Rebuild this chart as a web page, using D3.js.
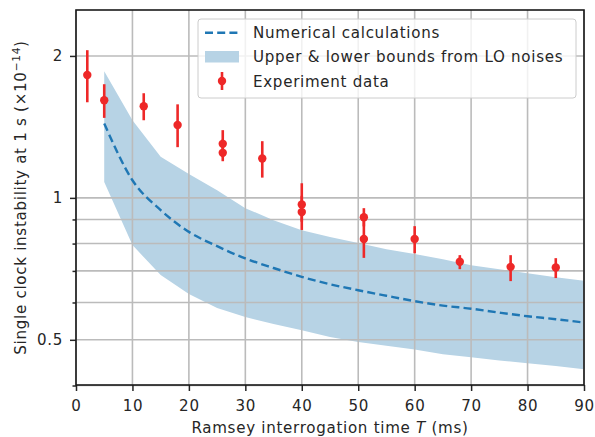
<!DOCTYPE html>
<html><head><meta charset="utf-8">
<script src="https://cdn.jsdelivr.net/npm/d3@7"></script>
<style>
body{margin:0;background:#fff;}
text{font-family:"DejaVu Sans",sans-serif;}
</style></head>
<body><svg id="c" width="595" height="437"></svg>
<script>
// Band / theory curve sampled at T (ms)
const bandT = [5,10,15,20,25,30,35,40,45,50,55,60,65,70,75,80,85,90];
const upperBound = [1.856,1.461,1.222,1.123,1.038,0.951,0.897,0.854,0.826,0.802,0.778,0.760,0.741,0.720,0.706,0.692,0.679,0.667];
const lowerBound = [1.081,0.794,0.686,0.625,0.584,0.559,0.540,0.524,0.507,0.495,0.486,0.477,0.466,0.459,0.452,0.446,0.440,0.433];
const numerical  = [1.438,1.090,0.942,0.847,0.790,0.744,0.710,0.680,0.656,0.637,0.620,0.604,0.591,0.582,0.571,0.561,0.553,0.544];
// Experiment data
const expT   = [2,5,12,18,26,26,33,40,40,51,51,60,68,77,85];
const expVal = [1.823,1.611,1.565,1.428,1.302,1.246,1.212,0.968,0.933,0.910,0.818,0.818,0.732,0.714,0.712];
const expLo  = [1.595,1.478,1.461,1.281,1.220,1.196,1.104,0.890,0.855,0.870,0.746,0.763,0.706,0.666,0.676];
const expHi  = [2.057,1.742,1.667,1.579,1.392,1.330,1.319,1.074,1.010,0.951,0.900,0.871,0.756,0.756,0.745];
// Ticks
const xTicks = [0,10,20,30,40,50,60,70,80,90];
const yMajor = [0.5,1,2];
const yMinor = [0.4,0.6,0.7,0.8,0.9];
const legendLabels = ["Numerical calculations","Upper & lower bounds from LO noises","Experiment data"];

const svg = d3.select("#c");
const L=76,R=584,Tp=10,B=385;
const FS="15.1px", LS="0.7px";
const x = d3.scaleLinear().domain([0,90]).range([L,R]);
const y = d3.scaleLog().domain([0.401,2.503]).range([B,Tp]);
const ink="#262626", grid="#bbbbbb", red="#ee2828", blue="#1f77b4";

// band
const band = bandT.map((t,i)=>({t,lo:lowerBound[i],hi:upperBound[i]}));
svg.append("path").datum(band)
  .attr("d", d3.area().x(d=>x(d.t)).y0(d=>y(d.lo)).y1(d=>y(d.hi)))
  .attr("fill","#b7d3e5");

// grid
const g = svg.append("g");
xTicks.forEach(t=>g.append("line").attr("x1",x(t)).attr("x2",x(t)).attr("y1",Tp).attr("y2",B)
  .attr("stroke",grid).attr("stroke-width",1.6));
yMajor.concat(yMinor).forEach(v=>g.append("line").attr("x1",L).attr("x2",R).attr("y1",y(v)).attr("y2",y(v))
  .attr("stroke",grid).attr("stroke-width",1.6));

// dashed line
svg.append("path").datum(bandT.map((t,i)=>[t,numerical[i]]))
  .attr("d", d3.line().x(d=>x(d[0])).y(d=>y(d[1])).curve(d3.curveMonotoneX))
  .attr("fill","none").attr("stroke",blue).attr("stroke-width",2.4).attr("stroke-dasharray","8,4.2");

// error bars
const ed = expT.map((t,i)=>({t,v:expVal[i],lo:expLo[i],hi:expHi[i]}));
svg.append("g").selectAll("line").data(ed).join("line")
  .attr("x1",d=>x(d.t)).attr("x2",d=>x(d.t)).attr("y1",d=>y(d.lo)).attr("y2",d=>y(d.hi))
  .attr("stroke",red).attr("stroke-width",2.6);
svg.append("g").selectAll("circle").data(ed).join("circle")
  .attr("cx",d=>x(d.t)).attr("cy",d=>y(d.v)).attr("r",4.2).attr("fill",red);

// axes
const xa = svg.append("g").attr("transform",`translate(0,${B})`)
  .call(d3.axisBottom(x).tickValues(xTicks).tickFormat(d3.format("d")).tickSize(6).tickPadding(9));
const ya = svg.append("g").attr("transform",`translate(${L},0)`)
  .call(d3.axisLeft(y).tickValues(yMajor).tickFormat(d=>d===0.5?"0.5":String(d)).tickSize(6).tickPadding(7));
const ym = svg.append("g").attr("transform",`translate(${L},0)`)
  .call(d3.axisLeft(y).tickValues(yMinor).tickFormat("").tickSize(3.5));
[xa,ya,ym].forEach(a=>{
  a.select(".domain").remove();
  a.selectAll(".tick line").attr("stroke",ink).attr("stroke-width",1.5);
  a.selectAll(".tick text").attr("fill",ink).style("font-size",FS).style("letter-spacing",LS).style("font-family","DejaVu Sans");
});
// frame
svg.append("rect").attr("x",L).attr("y",Tp).attr("width",R-L).attr("height",B-Tp)
  .attr("fill","none").attr("stroke","#1a1a1a").attr("stroke-width",1.6);

// axis titles
const xt = svg.append("text").attr("x",(L+R)/2).attr("y",432.5).attr("text-anchor","middle")
  .attr("fill",ink).style("font-size",FS).style("letter-spacing",LS);
xt.append("tspan").text("Ramsey interrogation time ");
xt.append("tspan").attr("font-style","italic").text("T");
xt.append("tspan").text(" (ms)");
const yt = svg.append("text").attr("transform",`translate(26,${(Tp+B)/2}) rotate(-90)`)
  .attr("text-anchor","middle").attr("fill",ink).style("font-size",FS).style("letter-spacing",LS);
yt.append("tspan").text("Single clock instability at 1 s (×10");
yt.append("tspan").attr("dy",-6.5).style("font-size","10.6px").text("−14");
yt.append("tspan").attr("dy",6.5).text(")");

// legend
const lg = svg.append("g");
lg.append("rect").attr("x",198).attr("y",19).attr("width",378).attr("height",79).attr("rx",3)
  .attr("fill","#fff").attr("fill-opacity",0.8).attr("stroke","#cccccc").attr("stroke-width",1);
const rows=[32.7,56.7,81];
lg.append("line").attr("x1",205).attr("x2",239).attr("y1",rows[0]).attr("y2",rows[0])
  .attr("stroke",blue).attr("stroke-width",2.4).attr("stroke-dasharray","8,4.2");
lg.append("rect").attr("x",205).attr("y",51).attr("width",34).attr("height",11.5).attr("fill","#b7d3e5");
lg.append("line").attr("x1",222).attr("x2",222).attr("y1",72).attr("y2",90).attr("stroke",red).attr("stroke-width",2.6);
lg.append("circle").attr("cx",222).attr("cy",rows[2]).attr("r",4.2).attr("fill",red);
legendLabels.forEach((s,i)=>lg.append("text").attr("x",253).attr("y",rows[i]+5.5).attr("fill",ink)
  .style("font-size",FS).style("letter-spacing",LS).text(s));
</script></body></html>
